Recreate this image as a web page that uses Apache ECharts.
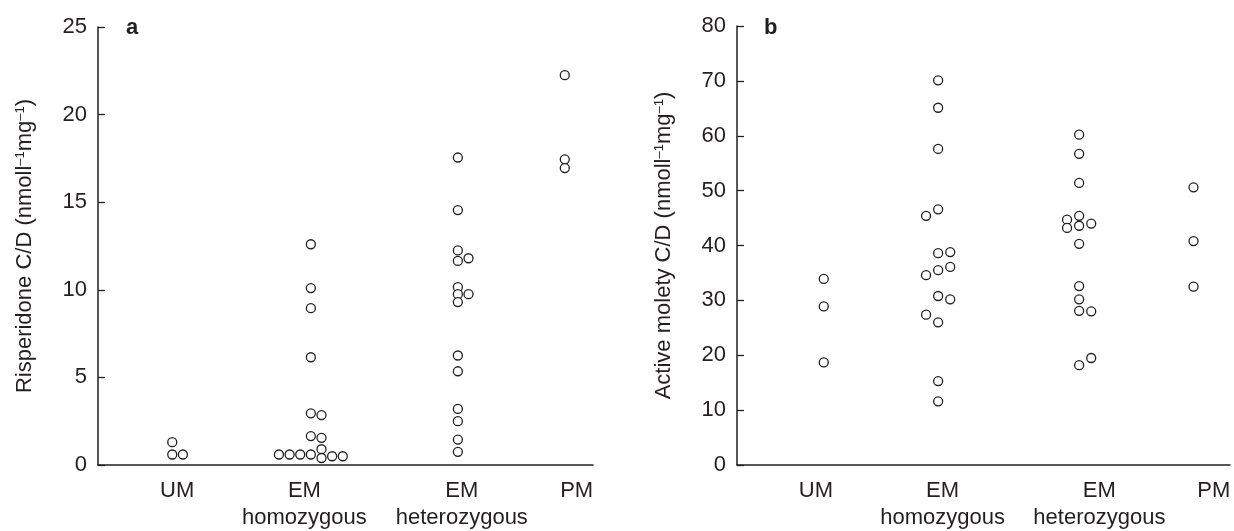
<!DOCTYPE html>
<html>
<head>
<meta charset="utf-8">
<script src="https://cdn.jsdelivr.net/npm/echarts@6/dist/echarts.min.js"></script>
<style>
  html, body { margin: 0; padding: 0; background: #fff; }
  #main { width: 1234px; height: 531px; }
</style>
</head>
<body>
<div id="main"></div>
<script>
// genotype groups, in axis order
var categories = ['UM', 'EM\nhomozygous', 'EM\nheterozygous', 'PM'];
var labelSpots = [16, 41.7, 73.5, 96.7];

// panel a: risperidone C/D, with side offsets (in circle widths) where points pile up
var rispUM = [1.3, 0.6, 0.6];
var rispUMdx = [0, 0, 1];
var rispHomo = [12.6, 10.1, 8.95, 6.15, 2.95, 2.85, 1.65, 1.55, 0.6, 0.6, 0.6, 0.6, 0.9, 0.4, 0.5, 0.5];
var rispHomoDx = [0, 0, 0, 0, 0, 1, 0, 1, -3, -2, -1, 0, 1, 1, 2, 3];
var rispHet = [17.55, 14.55, 12.25, 11.65, 11.8, 10.15, 9.75, 9.75, 9.3, 6.25, 5.35, 3.2, 2.5, 1.45, 0.75];
var rispHetDx = [0, 0, 0, 0, 1, 0, 0, 1, 0, 0, 0, 0, 0, 0, 0];
var rispPM = [22.25, 17.45, 16.95];
var rispPMdx = [0, 0, 0];

// panel b: active moiety C/D
var actUM = [33.9, 28.9, 18.7];
var actUMdx = [0, 0, 0];
var actHomo = [70.1, 65.1, 57.6, 46.6, 45.4, 38.6, 38.8, 36.1, 35.5, 34.6, 30.8, 30.2, 27.4, 26.0, 15.3, 11.6];
var actHomoDx = [0, 0, 0, 0, -1, 0, 1, 1, 0, -1, 0, 1, -1, 0, 0, 0];
var actHet = [60.2, 56.7, 51.4, 45.4, 43.6, 44.7, 43.2, 44.0, 40.3, 32.6, 30.2, 28.1, 28.0, 18.2, 19.5];
var actHetDx = [0, 0, 0, 0, 0, -1, -1, 1, 0, 0, 0, 0, 1, 0, 1];
var actPM = [50.6, 40.8, 32.5];
var actPMdx = [0, 0, 0];

var font = '"Liberation Sans", Arial, Helvetica, sans-serif';
var ink = '#231f20';

function points(col, step, vals, dx) {
    return vals.map(function (v, i) { return [col + dx[i] * step, v]; });
}

function panelData(cols, step, groups) {
    var out = [];
    groups.forEach(function (g, k) {
        out = out.concat(points(cols[k], step, g[0], g[1]));
    });
    return out;
}

var dataA = panelData([15.0, 43.0, 72.7, 94.3], 2.15,
    [[rispUM, rispUMdx], [rispHomo, rispHomoDx], [rispHet, rispHetDx], [rispPM, rispPMdx]]);
var dataB = panelData([17.6, 40.8, 69.4, 92.6], 2.45,
    [[actUM, actUMdx], [actHomo, actHomoDx], [actHet, actHetDx], [actPM, actPMdx]]);

function xAxisFor(idx) {
    return {
        type: 'value', gridIndex: idx, min: 0, max: 100,
        splitLine: { show: false },
        axisLine: { lineStyle: { color: ink, width: 1.5 } },
        axisTick: { show: false },
        axisLabel: {
            customValues: labelSpots,
            formatter: function (v) {
                var i = labelSpots.indexOf(v);
                return i < 0 ? '' : categories[i];
            },
            color: ink, fontSize: 22, fontFamily: font,
            lineHeight: 27, margin: 12
        }
    };
}

function yAxisFor(idx, max, step, name) {
    return {
        type: 'value', gridIndex: idx, min: 0, max: max, interval: step,
        name: name, nameLocation: 'middle', nameGap: 62, nameRotate: 90,
        nameTextStyle: {
            color: ink, fontSize: 22, fontFamily: font,
            rich: { sup: { fontSize: 13, fontFamily: font, color: ink, verticalAlign: 'top', lineHeight: 22 } }
        },
        splitLine: { show: false },
        axisLine: { show: true, lineStyle: { color: ink, width: 1.5 } },
        axisTick: { show: true, inside: true, length: 7, lineStyle: { color: ink, width: 1.3 } },
        axisLabel: { color: ink, fontSize: 22, fontFamily: font, margin: 11 }
    };
}

var dot = {
    type: 'scatter', symbol: 'circle', symbolSize: 9,
    itemStyle: { color: '#fff', borderColor: ink, borderWidth: 1.3, opacity: 1 },
    emphasis: { disabled: true }
};

var myChart = echarts.init(document.getElementById('main'));

var option = {
    backgroundColor: '#fff',
    animation: false,
    title: [
        { text: 'a', left: 121, top: 12, textStyle: { fontSize: 22, fontWeight: 'bold', color: ink, fontFamily: font } },
        { text: 'b', left: 759, top: 12, textStyle: { fontSize: 22, fontWeight: 'bold', color: ink, fontFamily: font } }
    ],
    grid: [
        { left: 98, top: 27, width: 495, height: 442 },
        { left: 737, top: 26, width: 493, height: 443 }
    ],
    xAxis: [xAxisFor(0), xAxisFor(1)],
    yAxis: [
        yAxisFor(0, 25, 5, 'Risperidone C/D (nmoll{sup|–1}mg{sup|–1})'),
        yAxisFor(1, 80, 10, 'Active molety C/D (nmoll{sup|–1}mg{sup|–1})')
    ],
    series: [
        Object.assign({}, dot, { xAxisIndex: 0, yAxisIndex: 0, data: dataA }),
        Object.assign({}, dot, { xAxisIndex: 1, yAxisIndex: 1, data: dataB })
    ]
};

myChart.setOption(option);
</script>
</body>
</html>
